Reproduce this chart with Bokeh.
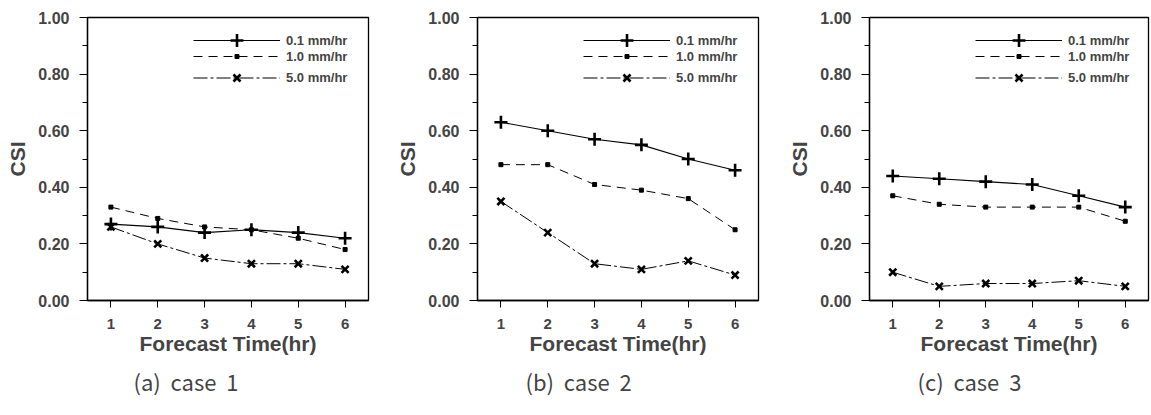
from bokeh.plotting import figure
from bokeh.layouts import row
from bokeh.models import FixedTicker, PrintfTickFormatter, Range1d, Title, Legend, LegendItem
from bokeh.embed import file_html
from bokeh.resources import INLINE

hours = [1, 2, 3, 4, 5, 6]
series_labels = ["0.1 mm/hr", "1.0 mm/hr", "5.0 mm/hr"]

case1_01 = [0.27, 0.26, 0.24, 0.25, 0.24, 0.22]
case1_10 = [0.33, 0.29, 0.26, 0.25, 0.22, 0.18]
case1_50 = [0.26, 0.20, 0.15, 0.13, 0.13, 0.11]

case2_01 = [0.63, 0.60, 0.57, 0.55, 0.50, 0.46]
case2_10 = [0.48, 0.48, 0.41, 0.39, 0.36, 0.25]
case2_50 = [0.35, 0.24, 0.13, 0.11, 0.14, 0.09]

case3_01 = [0.44, 0.43, 0.42, 0.41, 0.37, 0.33]
case3_10 = [0.37, 0.34, 0.33, 0.33, 0.33, 0.28]
case3_50 = [0.10, 0.05, 0.06, 0.06, 0.07, 0.05]

captions = ["(a)\u00a0 case\u00a0 1", "(b)\u00a0 case\u00a0 2", "(c)\u00a0 case\u00a0 3"]
y_ticks = [0.0, 0.2, 0.4, 0.6, 0.8, 1.0]
y_minor = [0.1, 0.3, 0.5, 0.7, 0.9]

FONT = "Liberation Sans"


def make_legend(label, renderers, gh, center_from_top, fh):
    lg = Legend(items=[LegendItem(label=label, renderers=renderers)],
                location=(106, fh - center_from_top - gh / 2))
    lg.glyph_width = 87
    lg.glyph_height = gh
    lg.label_height = gh
    lg.spacing = 0
    lg.padding = 0
    lg.margin = 0
    lg.label_standoff = 6
    lg.border_line_color = None
    lg.background_fill_alpha = 0
    lg.label_text_font = FONT
    lg.label_text_font_style = "bold"
    lg.label_text_font_size = "13px"
    return lg


def panel(d01, d10, d50, caption, left, right, fw, cap_off):
    fh = 283
    p = figure(width=left + fw + right, height=415,
               min_border_left=left, min_border_right=right,
               min_border_top=17, min_border_bottom=115,
               x_range=Range1d(0.5, 6.5), y_range=Range1d(0.0, 1.0),
               output_backend="svg", toolbar_location=None)
    p.grid.visible = False
    p.outline_line_color = "black"
    p.outline_line_width = 1.3
    p.background_fill_color = "white"
    p.border_fill_color = "white"

    # x axis
    xa = p.xaxis[0]
    xa.ticker = FixedTicker(ticks=hours)
    xa.minor_tick_line_color = None
    xa.major_tick_out = 7
    xa.major_tick_in = 0
    xa.major_label_standoff = 11
    xa.axis_label = "Forecast Time(hr)"
    xa.axis_label_standoff = 0
    xa.axis_label_text_font = FONT
    xa.axis_label_text_font_style = "bold"
    xa.axis_label_text_font_size = "21px"
    xa.major_label_text_font = FONT
    xa.major_label_text_font_style = "bold"
    xa.major_label_text_font_size = "15px"
    xa.axis_line_color = "black"
    xa.axis_line_width = 1.3

    # y axis
    ya = p.yaxis[0]
    ya.ticker = FixedTicker(ticks=y_ticks, minor_ticks=y_minor)
    ya.formatter = PrintfTickFormatter(format="%.2f")
    ya.major_tick_out = 8
    ya.major_tick_in = 0
    ya.minor_tick_out = 5
    ya.minor_tick_in = 0
    ya.major_label_standoff = 10
    ya.axis_label = "CSI"
    ya.axis_label_standoff = 6
    ya.axis_label_text_font = FONT
    ya.axis_label_text_font_style = "bold"
    ya.axis_label_text_font_size = "21px"
    ya.major_label_text_font = FONT
    ya.major_label_text_font_style = "bold"
    ya.major_label_text_font_size = "16px"
    ya.axis_line_color = "black"
    ya.axis_line_width = 1.3

    l1 = p.line(hours, d01, line_color="black", line_width=1.1)
    m1 = p.scatter(hours, d01, marker="cross", size=13, line_color="black", line_width=2.6)
    l2 = p.line(hours, d10, line_color="black", line_width=1.0, line_dash="9 6")
    m2 = p.scatter(hours, d10, marker="square", size=4, fill_color="black", line_color="black")
    l3 = p.line(hours, d50, line_color="black", line_width=1.0, line_dash="14 3 3 3")
    m3 = p.scatter(hours, d50, marker="x", size=10, line_color="black", line_width=2.6)

    p.add_layout(make_legend(series_labels[0], [l1, m1], 32, 23, fh), "center")
    p.add_layout(make_legend(series_labels[1], [l2, m2], 10, 41.5, fh), "center")
    p.add_layout(make_legend(series_labels[2], [l3, m3], 25, 60, fh), "center")

    t = Title(text=caption, align="left", offset=cap_off, text_font="Noto Sans CJK KR",
              text_font_style="normal", text_font_size="22px", standoff=11)
    p.add_layout(t, "below")
    return p


pa = panel(case1_01, case1_10, case1_50, captions[0], 87, 16, 281, 46)
pb = panel(case2_01, case2_10, case2_50, captions[1], 93, 9, 281, 48)
pc = panel(case3_01, case3_10, case3_50, captions[2], 102, 3, 279, 48)

layout = row(pa, pb, pc, spacing=0)
open("out.html", "w").write(file_html(layout, INLINE))
